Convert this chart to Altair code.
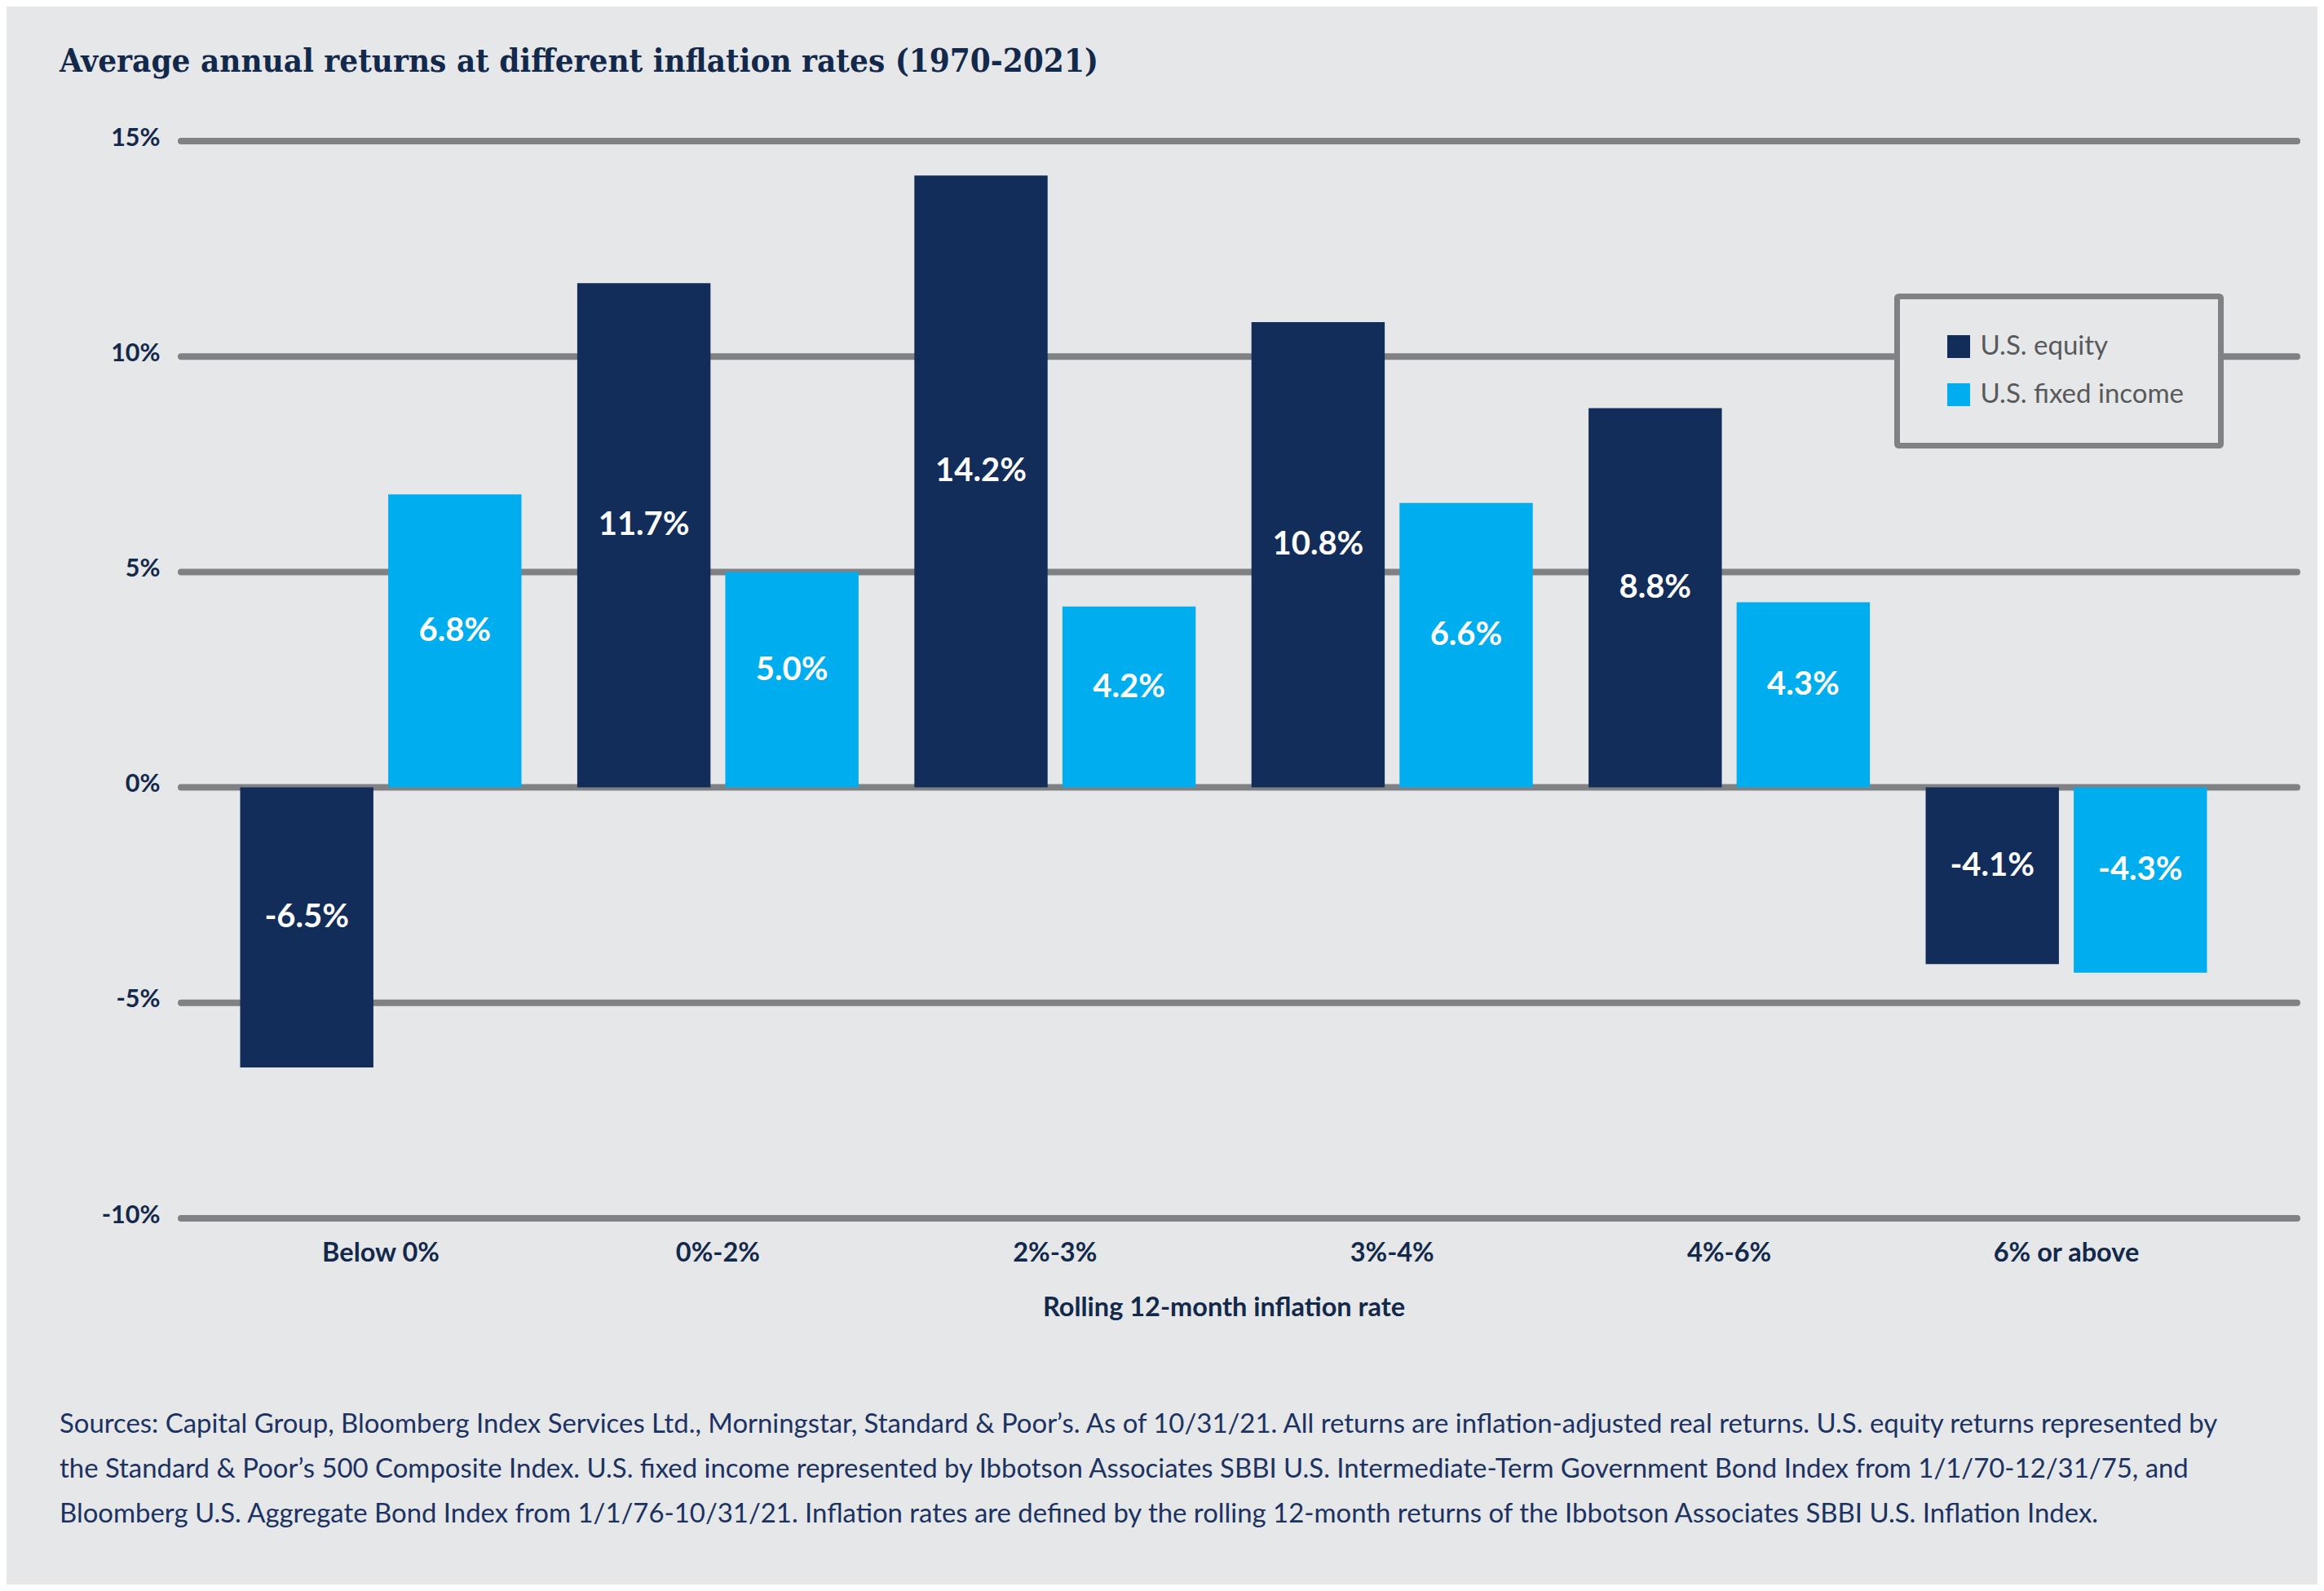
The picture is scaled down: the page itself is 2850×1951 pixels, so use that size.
import altair as alt
import pandas as pd

categories = ["Below 0%", "0%-2%", "2%-3%", "3%-4%", "4%-6%", "6% or above"]
series = ["U.S. equity", "U.S. fixed income"]
equity = [-6.5, 11.7, 14.2, 10.8, 8.8, -4.1]
fixed_income = [6.8, 5.0, 4.2, 6.6, 4.3, -4.3]
y_ticks = [-10, -5, 0, 5, 10, 15]

title_text = "Average annual returns at different inflation rates (1970-2021)"
x_title = "Rolling 12-month inflation rate"
footnote = [
    "Sources: Capital Group, Bloomberg Index Services Ltd., Morningstar, Standard & Poor\u2019s. As of 10/31/21. All returns are inflation-adjusted real returns. U.S. equity returns represented by",
    "the Standard & Poor\u2019s 500 Composite Index. U.S. fixed income represented by Ibbotson Associates SBBI U.S. Intermediate-Term Government Bond Index from 1/1/70-12/31/75, and",
    "Bloomberg U.S. Aggregate Bond Index from 1/1/76-10/31/21. Inflation rates are defined by the rolling 12-month returns of the Ibbotson Associates SBBI U.S. Inflation Index.",
]

NAVY = "#132d5a"
CYAN = "#00adee"
GRID = "#808184"
BG = "#e6e7e9"
TEXT = "#13294b"
FONT = "Lato"

W, H = 2557, 1321

rows = []
for c, e, f in zip(categories, equity, fixed_income):
    rows.append({"category": c, "series": series[0], "value": e, "label": f"{e:.1f}%"})
    rows.append({"category": c, "series": series[1], "value": f, "label": f"{f:.1f}%"})
df = pd.DataFrame(rows)

grid_df = pd.DataFrame({"tick": y_ticks})
one = pd.DataFrame({"k": [0]})

y_scale = alt.Scale(domain=[-10, 15], nice=False, zero=False)
x_enc = alt.X(
    "category:N",
    sort=categories,
    scale=alt.Scale(paddingInner=0.1655, paddingOuter=0.1754),
    axis=alt.Axis(
        title=x_title,
        labelAngle=0,
        labelFont=FONT,
        labelFontSize=32.5,
        labelFontWeight="bold",
        labelColor=TEXT,
        labelPadding=26,
        tickSize=0,
        ticks=False,
        domain=False,
        titleFont=FONT,
        titleFontSize=32.5,
        titleFontWeight="bold",
        titleColor=TEXT,
        titlePadding=35,
    ),
)

grid = alt.Chart(grid_df).mark_rule(
    color=GRID, strokeWidth=8, strokeCap="round"
).encode(
    y=alt.Y(
        "tick:Q",
        scale=y_scale,
        axis=alt.Axis(
            values=y_ticks,
            labelExpr="datum.value + '%'",
            title=None,
            labelFont=FONT,
            labelFontSize=30.5,
            labelFontWeight="bold",
            labelColor=TEXT,
            labelPadding=26,
            tickSize=0,
            ticks=False,
            domain=False,
            grid=False,
            labelOffset=-4,
        ),
    ),
    x=alt.value(0),
    x2=alt.value(2595),
)

bars = alt.Chart(df).mark_bar().encode(
    x=x_enc,
    xOffset=alt.XOffset("series:N", sort=series, scale=alt.Scale(paddingInner=0.1, paddingOuter=0)),
    y=alt.Y("value:Q", scale=y_scale),
    y2=alt.datum(0),
    color=alt.Color(
        "series:N",
        sort=series,
        scale=alt.Scale(domain=series, range=[NAVY, CYAN]),
        legend=alt.Legend(
            title=None,
            orient="none",
            legendX=2104.5,
            legendY=190.5,
            direction="vertical",
            symbolType="square",
            symbolSize=784,
            symbolStrokeWidth=0,
            symbolOpacity=1,
            symbolOffset=14,
            labelFont=FONT,
            labelFontSize=33,
            labelColor="#58595b",
            labelOffset=10,
            labelLimit=500,
            rowPadding=25,
            padding=45,
            strokeColor=GRID,
            fillColor=BG,
            cornerRadius=2,
        ),
    ),
)

labels = alt.Chart(df).transform_calculate(half="datum.value / 2").mark_text(
    font=FONT, fontSize=40, fontWeight="bold", color="white", baseline="middle", align="center", dy=-12
).encode(
    x=x_enc,
    xOffset=alt.XOffset("series:N", sort=series),
    y=alt.Y("half:Q", scale=y_scale),
    text="label:N",
)

title = alt.Chart(one).mark_text(
    text=title_text,
    font="DejaVu Serif Condensed, DejaVu Serif",
    fontSize=40,
    fontWeight="bold",
    color=TEXT,
    align="left",
    baseline="alphabetic",
).encode(x=alt.value(-149), y=alt.value(-85))

foot = alt.Chart(one).mark_text(
    text=footnote,
    font=FONT,
    fontSize=32.9,
    color="#1b3262",
    align="left",
    baseline="alphabetic",
    lineHeight=55
).encode(x=alt.value(-149), y=alt.value(1584))

chart = alt.layer(grid, bars, labels, title, foot).properties(
    width=W,
    height=H,
    autosize=alt.AutoSizeParams(type="none"),
    padding={"left": 214, "top": 165, "right": 63, "bottom": 449},
    background=BG,
).configure_view(stroke=None).configure_legend(strokeWidth=7)

chart.save("out.html", embed_options={"renderer": "svg", "actions": False})
